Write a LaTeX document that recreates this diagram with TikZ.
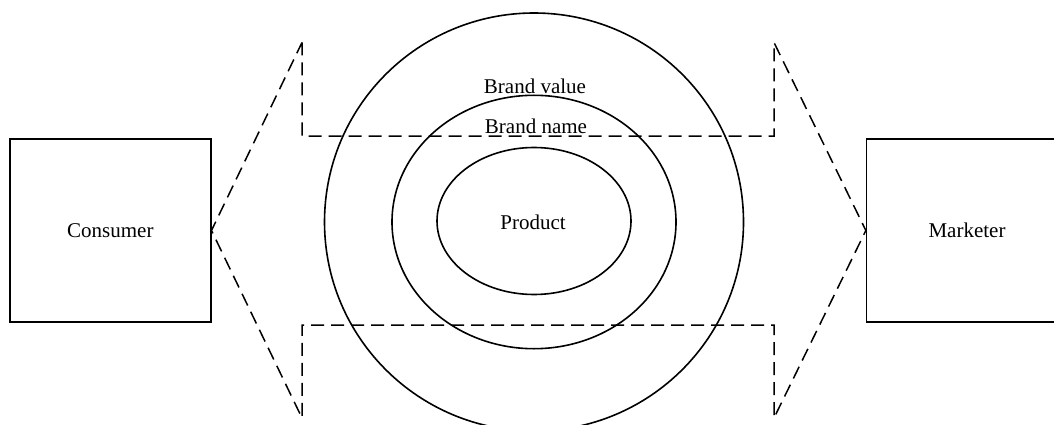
\documentclass[tikz,border=0pt]{standalone}
\usepackage{fontspec}
\setmainfont{Liberation Serif}
\usetikzlibrary{shapes.geometric}
\begin{document}
\begin{tikzpicture}[x=1pt,y=-1pt,
  every node/.style={font=\fontsize{21}{25}\selectfont},
  boxstyle/.style={draw,line width=1.6pt,minimum width=200.7pt,minimum height=183pt,inner sep=0pt},
  ringstyle/.style={draw,line width=1.6pt,ellipse,inner sep=0pt},
  arrowline/.style={draw,line width=1.5pt,dash pattern=on 13pt off 7pt,line join=miter},
  lbl/.style={inner sep=0pt,anchor=center}]
\useasboundingbox (0,0) rectangle (1054,425);
\clip (0,0) rectangle (1054,425);
% boxes
\node[boxstyle] (consumer) at (110.35,230.5) {Consumer};
\node[boxstyle] (marketer) at (967,230.5) {Marketer};
% rings
\node[ringstyle,minimum width=419pt,minimum height=418pt] (outer) at (534,222) {};
\node[ringstyle,minimum width=284pt,minimum height=253.4pt] (middle) at (534,222) {};
\node[ringstyle,minimum width=194pt,minimum height=147pt] (inner) at (534,221) {};
% labels
\node[lbl] (bv) at (535,86) {Brand value};
\node[lbl] (bn) at (536,126) {Brand name};
\node[lbl] (prod) at (533,222) {Product};
% double arrow
\coordinate (tl) at (302,42.5);
\coordinate (tlc) at (302,136);
\coordinate (trc) at (774,136);
\coordinate (tr) at (774,42.5);
\coordinate (br) at (774,418);
\coordinate (brc) at (774,325);
\coordinate (blc) at (302,325);
\coordinate (bl) at (302,418);
\path[arrowline] (tl) -- (tlc) -- (trc) -- (tr) -- (marketer.west) -- (br) -- (brc) -- (blc) -- (bl) -- (consumer.east) -- cycle;
\end{tikzpicture}
\end{document}
